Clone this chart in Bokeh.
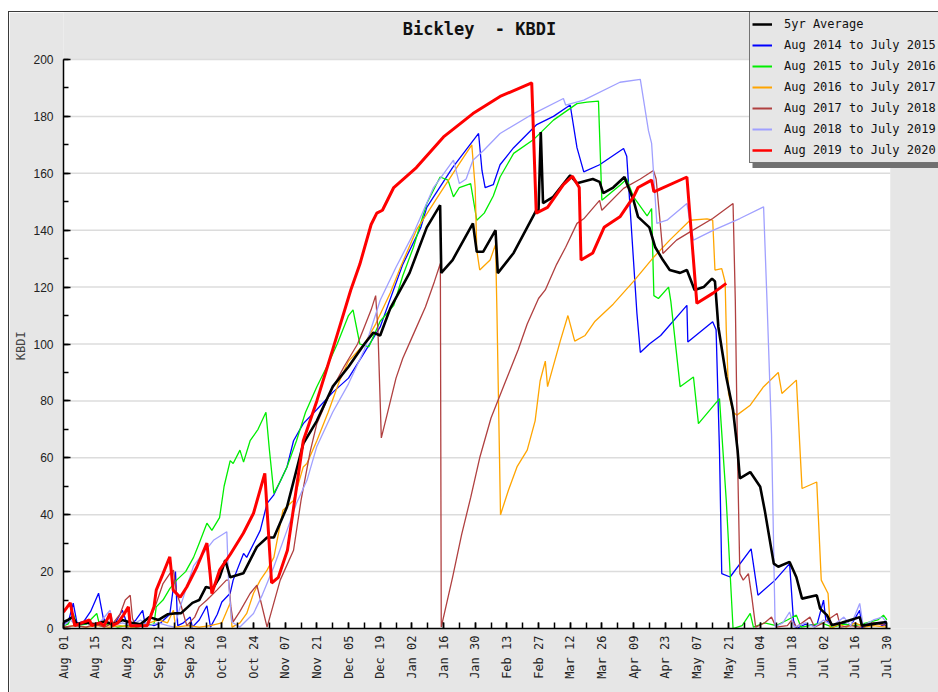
import math
import numpy as np
from bokeh.plotting import figure
from bokeh.models import Range1d, FixedTicker, Legend, LegendItem, Label
from bokeh.embed import file_html
from bokeh.resources import INLINE

# ---- axis ticks (day offset from Aug 01) ----
tick_days = list(range(0, 365, 14))
tick_labels = ["Aug 01", "Aug 15", "Aug 29", "Sep 12", "Sep 26", "Oct 10", "Oct 24",
               "Nov 07", "Nov 21", "Dec 05", "Dec 19", "Jan 02", "Jan 16", "Jan 30",
               "Feb 13", "Feb 27", "Mar 12", "Mar 26", "Apr 09", "Apr 23", "May 07",
               "May 21", "Jun 04", "Jun 18", "Jul 02", "Jul 16", "Jul 30"]
minor_days = list(range(0, 366, 7))
y_ticks = list(range(0, 201, 20))
y_minor = list(range(0, 201, 10))
x_end = 365.5
y_end = 200

# ---- series (day offset, KBDI) ----
avg_days = [0, 2, 4, 6, 10, 14, 18, 22, 26, 30, 34, 38, 42, 46, 49, 52, 57, 60, 63, 66, 69, 71.5, 73.7, 79.5, 85.5,
            90, 93, 98.8, 106, 112, 119, 126, 133, 137, 140, 144.5, 153, 160.6, 166.5, 167, 172, 181, 182.7, 185.5,
            191, 192, 199, 209, 210, 211, 212, 216.5, 224, 227, 234, 237, 238.6, 243, 248, 249, 252, 254, 259, 261.6,
            265, 268, 272.6, 275.6, 279, 283, 286.7, 288, 289.5, 293, 296, 298, 299, 303.6, 308, 310, 314, 316, 321,
            324, 326.5, 333, 334.5, 337.5, 339.7, 344, 348, 352, 353, 359.6, 364]
avg_vals = [2.3, 3, 4, 1.5, 2, 1.5, 2.5, 1.5, 3, 2, 1.5, 4, 3, 5, 5.3, 5.4, 9, 10, 14.6, 14, 18, 24, 18, 19.4, 28.7,
            32, 32, 42.7, 65, 73, 85, 92, 100, 104, 103, 112.6, 125, 141, 148.8, 125, 129.5, 142.4, 132.4, 132.4,
            140, 124.9, 132, 147, 147, 174.5, 149.5, 151.7, 159.3, 156.5, 158, 157, 153, 155, 158.7, 156.5, 150.5,
            144.7, 141, 134, 129.5, 126, 125, 126, 119, 120, 123, 122, 106, 88.4, 76.7, 62.7, 52.8, 55, 49.8, 41.6,
            22.8, 21.7, 23.4, 18, 10.5, 11.7, 7, 4.7, 1.2, 2, 3, 4, 1, 1.8, 2.3]

y2015_days = [0, 2, 4.3, 6, 9, 12, 15.5, 17.6, 20, 23, 26, 28.6, 32, 35, 36, 40, 43, 47, 49.5, 50.5, 53, 56, 57, 60,
              63.4, 65, 68, 70, 73.7, 75, 79.6, 81, 87, 90, 93, 98.8, 101.7, 106, 112, 119, 126, 133, 140, 143, 150,
              158, 160.6, 172, 183.5, 185, 186.4, 190, 193, 199, 209, 216.6, 224, 227, 230, 237, 247.6, 249, 253.5,
              255, 259, 264, 275.6, 276, 287, 288.5, 290, 291, 294.7, 304, 307, 314.6, 321, 322.7, 324, 328, 333,
              336, 337, 340, 344, 348, 352, 353, 356, 360, 362, 364]
y2015_vals = [1.8, 2, 8.9, 1.8, 2.5, 6, 12.4, 3.6, 1.5, 2, 6.4, 0.5, 3, 6.4, 1.8, 1, 2, 5, 20, 1, 2, 4, 0.5, 3, 8,
              0.5, 5, 9.3, 12.4, 17, 26.4, 25, 34.5, 44, 47, 56.8, 66, 72, 77, 83, 88, 97, 106, 112.6, 128, 141, 148,
              162, 174, 161, 155, 156, 163, 169, 177, 180, 184, 169, 160.5, 163, 168.7, 166, 110.8, 97, 100, 103,
              113.6, 100.7, 107.8, 105, 62.7, 19.3, 18.1, 28, 11.7, 17, 22.8, 2.9, 0, 1.5, 1, 10, 3, 1, 2, 1, 6.4,
              0, 1.5, 2, 1, 2]

y2016_days = [0, 2, 4.3, 6, 10, 14.7, 16, 20, 24, 28, 32, 36, 40, 41, 44, 47, 50, 54, 57.5, 60, 63.4, 65.6, 69, 71,
              73.7, 75, 78, 79.6, 82.5, 86, 89.5, 91, 93, 96, 98.8, 103, 107, 112, 117, 121, 126, 128, 131, 135, 140,
              146, 150, 154.7, 160.6, 166.5, 170, 172.4, 175, 180, 182.7, 186, 190, 193, 199, 208, 216.6, 227, 231.4,
              236.5, 238, 246, 249, 252, 258, 260, 261, 263, 267.5, 268.5, 272.6, 278.5, 280.7, 290, 293, 296, 300,
              303.6, 305, 310, 315, 320, 324, 326, 330, 335, 340, 345, 350, 355, 360, 362.5, 364]
y2016_vals = [1, 1.5, 5.3, 1, 1.5, 5.3, 1, 1.5, 0.5, 1, 0.5, 1, 1.5, 7.6, 10, 14, 17, 20, 25, 30, 37, 34.5, 39, 50,
              59, 58, 62.7, 58.5, 66, 70, 76, 63, 47.5, 52, 56.8, 66, 76, 85, 93, 100, 110, 112, 100, 99, 108, 113.6,
              124, 134, 149.4, 158.7, 157.6, 151.7, 155, 156.4, 143.5, 146, 152, 158.7, 167, 172, 178.7, 184.5, 185,
              185.4, 150.5, 155.8, 158, 151.7, 145, 147.6, 117, 116, 120, 115, 85, 88.4, 72, 80.8, 45, 0, 1, 5.3, 0.5,
              2, 1, 3, 4.7, 0.5, 1, 2, 0.5, 1.5, 1, 2, 3, 4.7, 3]

y2017_days = [0, 5, 10, 15, 20, 25, 30, 35, 38, 42, 46, 48.6, 49.5, 55, 60, 65, 70, 73.7, 74.5, 78, 81, 84, 87, 90,
              93, 97, 101.7, 106, 107.6, 112, 117, 122, 126, 133, 138, 144.5, 149, 156, 166.5, 175, 180.5, 182, 182.7,
              184, 188.6, 191, 191.6, 193.2, 196.7, 200.6, 205, 208.5, 210.7, 213, 214, 219.6, 223, 226, 230.6, 235,
              243, 252, 261, 268, 277, 284.5, 287, 288, 291, 292.5, 293, 294, 296, 297.7, 303.6, 309.5, 316, 317.6,
              324, 326.5, 333, 335, 338, 339, 343, 346, 350, 354, 358, 364]
y2017_vals = [0.5, 1, 0.5, 1, 0.5, 1, 0.5, 1, 2, 3, 2, 6.4, 0.5, 1, 0.5, 1, 2, 9, 0.5, 2, 5.3, 12.4, 17, 20.5, 25,
              41.6, 45, 56.8, 58, 66, 76, 87, 94, 100, 107, 118, 127, 140, 153, 163.4, 170, 155, 133, 126, 129.5,
              135, 112, 40, 48.6, 57, 62.7, 73, 87, 94, 85, 101, 110, 101, 103, 108, 114, 122, 130.6, 136.5, 143.5,
              144, 143.5, 126, 126.5, 121.8, 105, 82.6, 76, 75, 78.5, 85, 90, 82.6, 87.3, 49.2, 51.5, 17, 12.3, 0,
              1.5, 0.5, 2, 0.5, 1, 0.5]

y2018_days = [0, 5, 10, 14, 18, 22, 25, 27.3, 29.5, 30.5, 32, 36, 38, 41, 44, 47, 48.6, 50, 52, 54.5, 58, 60, 63.4,
              67.8, 72, 73, 74, 75, 78, 82.5, 85.5, 90, 95.8, 101.7, 105, 109, 112, 118, 124, 130, 133, 136, 138,
              139, 140.5, 143, 147, 150, 155, 160, 164, 166.6, 167, 172, 176, 180, 184, 189, 195, 201, 205, 210, 213,
              218, 222, 227, 230, 237, 238, 247.6, 255, 260.8, 262, 263.8, 265, 271, 277, 287, 296, 297, 298, 299,
              300.5, 302.8, 304.3, 306, 310, 313, 315, 320, 322, 324, 330, 332, 336, 342, 343.5, 348, 352, 358, 364]
y2018_vals = [0.5, 1, 0.5, 1.5, 0.5, 2, 5, 10, 11.7, 3.5, 0.5, 1, 3, 8.8, 15.8, 19.3, 20.5, 12.3, 8, 1, 4, 7.6, 10,
              13.5, 17, 17, 7.6, 2.3, 6, 12.3, 15.2, 0.5, 17, 27.5, 45, 62, 72, 83, 92, 100, 106, 112, 117, 105, 67,
              75, 88, 95, 104, 113, 122, 128.3, 0.5, 18, 33, 46, 60, 74, 86, 98, 107, 116, 119, 128, 134, 142.4, 144,
              150.5, 147, 154.7, 158, 161, 158, 142.4, 131.8, 136.5, 139.4, 144.1, 149.4, 115, 60, 19.3, 17, 19.3,
              11, 0.5, 2, 4, 0.5, 1, 3, 0.5, 4, 0.5, 2, 5.3, 0.5, 1, 0.5, 2, 1]

y2019_days = [0, 3, 6, 10, 14, 17, 20.6, 22, 26, 30, 34, 38, 42, 46, 49, 51.6, 57.5, 60.4, 66.3, 72.2, 73, 74.4, 78,
              84, 88, 93, 98.8, 103, 107.6, 112, 119, 126, 133, 140, 147, 154.7, 163.6, 172.4, 175, 178, 181, 185.7,
              193, 207.8, 221, 222, 230, 246, 255, 258.6, 260, 262.3, 266.8, 275.6, 276.5, 278.5, 287.4, 299, 309.5,
              311, 313, 314.6, 318, 321, 323, 328, 332, 336, 340, 345, 348, 352, 353.5, 358, 362, 364]
y2019_vals = [1, 3, 1, 2, 1, 3, 6.4, 1, 2, 1, 3, 1, 2, 1, 0.5, 7.6, 22, 25, 31, 34, 15.8, 2.3, 0.5, 5.3, 12, 21.7,
              34.5, 44, 52, 64, 76, 86, 98, 115.4, 127, 138.8, 155, 164.6, 156.4, 158, 164.6, 168, 174, 181, 186.3,
              184, 185.7, 192, 193, 175, 170.5, 142.4, 143.5, 149.4, 145, 136.5, 140, 144.1, 148.2, 115.4, 68.5, 0.6,
              2, 5.8, 0.5, 2, 0.5, 3, 1, 4, 1, 8.8, 1, 3, 4, 2]

y2020_days = [0, 3, 4.3, 5, 8, 11.5, 12.5, 16, 18, 20.6, 21.5, 24, 26.5, 28.7, 29.5, 33, 37, 40, 41, 44, 47, 48.5,
              51.6, 54.5, 59, 63.4, 64.8, 65.6, 69, 73.7, 79.5, 84, 89, 92, 95, 99, 106, 112, 119, 127, 131, 136,
              138.5, 141, 146, 156, 168, 181, 193, 207, 209, 214, 221, 225, 228, 228.8, 234, 239, 246, 252, 254, 260,
              261, 275.6, 280, 287, 293]
y2020_vals = [5.8, 9, 3.6, 1, 2, 3, 1, 2, 1, 5.3, 1, 2, 4.7, 7.6, 1, 1, 1, 7.6, 13.5, 19.3, 25.2, 13.5, 11, 14.6,
              21.7, 30, 19.3, 12.3, 20.5, 26, 33.5, 40.5, 54.5, 16, 18, 27.5, 66, 80, 98, 119, 128, 142, 146, 147,
              155, 162, 172.8, 181, 187, 191.8, 146, 148, 156, 159, 155, 129.5, 132, 141, 144.7, 151.7, 155, 157.6,
              153.5, 158.7, 114.3, 117.8, 121.3]

series_names = ["5yr Average", "Aug 2014 to July 2015", "Aug 2015 to July 2016", "Aug 2016 to July 2017",
                "Aug 2017 to July 2018", "Aug 2018 to July 2019", "Aug 2019 to July 2020"]
series_colors = ["#000000", "#0000ff", "#00ee00", "#ffa500", "#b04040", "#a0a0ff", "#ff0000"]
series_widths = [2.6, 1.3, 1.3, 1.3, 1.3, 1.3, 3]
legend_widths = [2.5, 2, 2, 2, 2, 2, 2.5]
series_data = [(avg_days, avg_vals), (y2015_days, y2015_vals), (y2016_days, y2016_vals),
               (y2017_days, y2017_vals), (y2018_days, y2018_vals), (y2019_days, y2019_vals),
               (y2020_days, y2020_vals)]
title_text = "Bickley\u00a0 - KBDI"
y_title = "KBDI"

# ---- layout (pixels) ----
PANEL = "#e6e6e6"
FIG_X, FIG_Y = 9, 12           # panel top-left on the page
FIG_W, FIG_H = 929, 680
FRAME_L = 63                   # page x of plot-area left edge
FRAME_B = 628                  # page y of plot-area bottom edge
PX_DAY = 2.262                 # pixels per day
PX_UNIT = 2.845                # pixels per KBDI unit

frame_w = FIG_X + FIG_W - FRAME_L
frame_h = FRAME_B - FIG_Y

p = figure(width=FIG_W, height=FIG_H,
           x_range=Range1d(0, frame_w / PX_DAY), y_range=Range1d(0, frame_h / PX_UNIT),
           output_backend="svg", toolbar_location=None,
           min_border_left=FRAME_L - FIG_X, min_border_right=0, min_border_top=0,
           min_border_bottom=FIG_Y + FIG_H - FRAME_B,
           background_fill_color=PANEL, border_fill_color=PANEL, outline_line_color=None)
p.margin = (FIG_Y, 0, 0, FIG_X)
p.styles = {"outline": "1px solid #3a3a3a"}

# white plot area and horizontal grid lines
p.quad(left=[0], right=[x_end], bottom=[0], top=[y_end], fill_color="white", line_color=None)
grid_y = y_ticks[1:]
p.segment(x0=[0] * len(grid_y), x1=[x_end] * len(grid_y), y0=grid_y, y1=grid_y,
          line_color="#dcdcdc", line_width=1.5)
p.xgrid.grid_line_color = None
p.ygrid.grid_line_color = None

xa = p.xaxis[0]
xa.bounds = (0, x_end)
xa.ticker = FixedTicker(ticks=tick_days, minor_ticks=minor_days)
xa.major_label_overrides = {d: lab for d, lab in zip(tick_days, tick_labels)}
xa.major_label_orientation = math.pi / 2
xa.major_tick_in = 6
xa.major_tick_out = 0
xa.minor_tick_in = 6
xa.minor_tick_out = 0
xa.major_label_standoff = 7
xa.major_label_text_font = "DejaVu Sans Mono"
xa.major_label_text_font_size = "12px"
xa.major_label_text_color = "#222222"
xa.axis_line_width = 1.5
xa.major_tick_line_width = 1.5
xa.minor_tick_line_width = 1.5

ya = p.yaxis[0]
ya.bounds = (0, y_end)
ya.ticker = FixedTicker(ticks=y_ticks, minor_ticks=y_minor)
ya.major_tick_in = 7
ya.major_tick_out = 0
ya.minor_tick_in = 5
ya.minor_tick_out = 0
ya.major_label_standoff = 10
ya.major_label_text_font = "Liberation Sans"
ya.major_label_text_font_size = "12px"
ya.major_label_text_color = "#222222"
# the label is centred on the whole panel height; trailing no-break spaces move the
# visible word down to the middle of the 0-200 plot area
ya.axis_label = y_title + "\u00a0" * 7
ya.axis_label_text_font = "DejaVu Sans Mono"
ya.axis_label_text_font_style = "normal"
ya.axis_label_text_font_size = "12px"
ya.axis_label_standoff = 2
ya.axis_line_width = 1.5
ya.major_tick_line_width = 1.5
ya.minor_tick_line_width = 1.5

draw_order = [1, 2, 3, 4, 5, 0, 6]
for i in draw_order:
    d, v = series_data[i]
    p.line(d, v, line_color=series_colors[i], line_width=series_widths[i])

# legend swatches: invisible (NaN) renderers so the legend lines can be a little thicker
nan_pt = np.array([np.nan])
swatches = [p.line(nan_pt, nan_pt, line_color=series_colors[i], line_width=legend_widths[i])
            for i in range(7)]

# title
title_cx, title_cy = 479, 28
p.add_layout(Label(x=(title_cx - FRAME_L) / PX_DAY, y=(FRAME_B - title_cy) / PX_UNIT, text=title_text,
                   text_font="DejaVu Sans Mono", text_font_style="bold", text_font_size="17px",
                   text_color="#111111", text_align="center", text_baseline="middle"))

# legend with drop shadow
leg_left, leg_bottom = 749, 162.5
p.quad(left=[(leg_left + 3 - FRAME_L) / PX_DAY], right=[frame_w / PX_DAY],
       bottom=[(FRAME_B - leg_bottom - 5) / PX_UNIT], top=[(FRAME_B - leg_bottom) / PX_UNIT],
       fill_color="#707070", line_color=None)
items = [LegendItem(label=series_names[i], renderers=[swatches[i]]) for i in range(7)]
legend = Legend(items=items, location=(leg_left - FRAME_L, FRAME_B - leg_bottom))
legend.background_fill_color = PANEL
legend.background_fill_alpha = 1
legend.border_line_color = "black"
legend.border_line_width = 1
legend.label_text_font = "DejaVu Sans Mono"
legend.label_text_font_size = "12px"
legend.label_text_color = "#111111"
legend.glyph_width = 20
legend.glyph_height = 20
legend.label_height = 20
legend.label_width = 175
legend.spacing = 1
legend.padding = 2
legend.margin = 0
legend.label_standoff = 12
p.add_layout(legend)

open("out.html", "w").write(file_html(p, INLINE))
